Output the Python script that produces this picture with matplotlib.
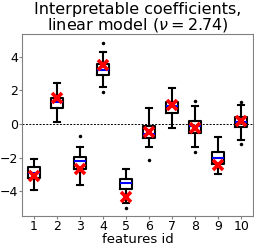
import numpy as np
import matplotlib
matplotlib.use("Agg")
import matplotlib.pyplot as plt

# feature ids and boxplot summaries
features = list(range(1, 11))
medians = [-2.91, 1.33, -2.22, 3.21, -3.53, -0.60, 1.05, -0.14, -2.04, 0.14]
q1s = [-3.21, 0.95, -2.66, 2.90, -3.85, -0.83, 0.65, -0.55, -2.36, -0.15]
q3s = [-2.56, 1.57, -1.94, 3.55, -3.25, -0.12, 1.29, 0.18, -1.68, 0.44]
whis_lo = [-3.95, 0.12, -3.61, 2.20, -4.68, -1.37, -0.26, -1.37, -2.95, -0.93]
whis_hi = [-2.10, 2.44, -1.37, 4.29, -2.66, 0.98, 2.13, 1.07, -0.77, 1.10]
fliers = [[], [], [-0.73], [4.79, 1.89], [-5.0], [-2.14], [], [1.35, -1.68], [], [1.31, -1.17]]
# true coefficients (red crosses)
true_coef = [-3.09, 1.57, -2.70, 3.51, -4.34, -0.48, 1.13, -0.24, -2.42, 0.18]

stats = []
for i in range(len(features)):
    stats.append(dict(med=medians[i], q1=q1s[i], q3=q3s[i],
                      whislo=whis_lo[i], whishi=whis_hi[i],
                      fliers=fliers[i], label=str(features[i])))

fig = plt.figure(figsize=(2.54, 2.45), dpi=100)
ax = fig.add_axes([0.088, 0.12, 0.908, 0.741])

ax.bxp(stats, positions=features, widths=0.52,
       boxprops=dict(color="black", linewidth=1.5),
       whiskerprops=dict(color="black", linewidth=1.5),
       capprops=dict(color="black", linewidth=1.5),
       medianprops=dict(color="blue", linewidth=1.5),
       flierprops=dict(marker=".", markerfacecolor="black",
                       markeredgecolor="black", markersize=3))
ax.plot(features, true_coef, "x", color="red", markersize=7, mew=2.6, zorder=5)
ax.axhline(0, color="black", linestyle="--", linewidth=0.7, dashes=(2, 1.5))

ax.set_xlim(0.5, 10.5)
ax.set_ylim(-5.45, 5.35)
ax.set_yticks([-4, -2, 0, 2, 4])
ax.set_xlabel("features id", fontsize=9.5, labelpad=0)
ax.set_title("Interpretable coefficients,\nlinear model ($\\nu = 2.74$)",
             fontsize=11.5, linespacing=0.95, pad=3)
ax.tick_params(labelsize=9, pad=1, length=2, color="gray")
for s in ax.spines.values():
    s.set_color("gray")

fig.savefig("out.png", dpi=100)
